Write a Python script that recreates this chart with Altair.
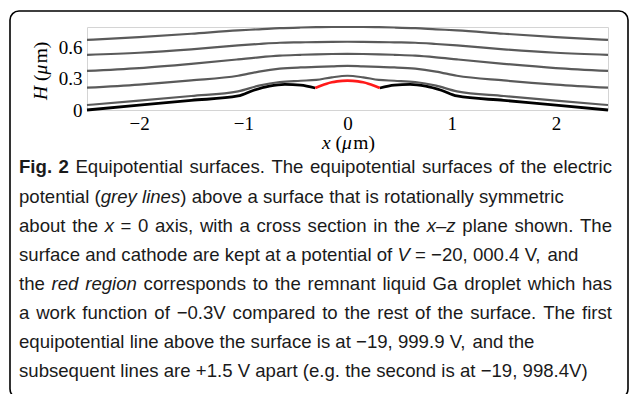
import altair as alt
import pandas as pd

# ---------------- data ----------------
X_GRID = [-2.5, -2.0, -1.5, -1.05, -0.85, -0.65, -0.45, -0.3, -0.15, 0.0,
          0.15, 0.3, 0.45, 0.65, 0.85, 1.05, 1.5, 2.0, 2.5]
GREY_1 = [0.048, 0.09, 0.135, 0.18, 0.235, 0.27, 0.282, 0.29, 0.315, 0.33,
          0.315, 0.29, 0.282, 0.27, 0.235, 0.18, 0.135, 0.09, 0.048]
GREY_2 = [0.215, 0.245, 0.285, 0.33, 0.37, 0.398, 0.41, 0.415, 0.42, 0.425,
          0.42, 0.415, 0.41, 0.398, 0.37, 0.33, 0.285, 0.245, 0.215]
GREY_3 = [0.377, 0.404, 0.445, 0.488, 0.508, 0.524, 0.532, 0.537, 0.54, 0.541,
          0.54, 0.537, 0.532, 0.524, 0.508, 0.488, 0.445, 0.404, 0.377]
GREY_4 = [0.531, 0.552, 0.585, 0.622, 0.636, 0.648, 0.652, 0.655, 0.657, 0.658,
          0.657, 0.655, 0.652, 0.648, 0.636, 0.622, 0.585, 0.552, 0.531]
GREY_5 = [0.676, 0.703, 0.735, 0.768, 0.778, 0.789, 0.795, 0.798, 0.8, 0.8,
          0.8, 0.798, 0.795, 0.789, 0.778, 0.768, 0.735, 0.703, 0.676]

SURF_L_X = [-2.5, -2.0, -1.5, -1.05, -0.9, -0.75, -0.6, -0.45, -0.31]
SURF_L_Y = [0.0, 0.047, 0.093, 0.135, 0.19, 0.23, 0.247, 0.24, 0.212]
SURF_R_X = [0.31, 0.45, 0.6, 0.75, 0.9, 1.05, 1.5, 2.0, 2.5]
SURF_R_Y = [0.212, 0.24, 0.247, 0.23, 0.19, 0.135, 0.093, 0.047, 0.0]

RED_X = [-0.31, -0.25, -0.2, -0.15, -0.1, -0.05, 0.0, 0.05, 0.1, 0.15, 0.2, 0.25, 0.31]
RED_Y = [0.212, 0.237, 0.254, 0.267, 0.276, 0.281, 0.283, 0.281, 0.276, 0.267, 0.254, 0.237, 0.212]

X_TICKS = [-2, -1, 0, 1, 2]
Y_TICKS = [0, 0.3, 0.6]

CAPTION = [
    [("Fig. 2", "b"), (" Equipotential surfaces. The equipotential surfaces of the electric", "r")],
    [("potential (", "r"), ("grey lines", "i"), (") above a surface that is rotationally symmetric", "r")],
    [("about the ", "r"), ("x", "i"), (" = 0 axis, with a cross section in the ", "r"), ("x–z", "i"),
     (" plane shown. The", "r")],
    [("surface and cathode are kept at a potential of ", "r"), ("V", "i"), (" = −20, 000.4 V, and", "r")],
    [("the ", "r"), ("red region", "i"), (" corresponds to the remnant liquid Ga droplet which has", "r")],
    [("a work function of −0.3V compared to the rest of the surface. The first", "r")],
    [("equipotential line above the surface is at −19, 999.9 V, and the", "r")],
    [("subsequent lines are +1.5 V apart (e.g. the second is at −19, 998.4V)", "r")],
]
JUSTIFIED = [True, False, True, False, True, True, False, False]

# ---------------- layout helpers ----------------
PAD_L, PAD_T, PLOT_W, PLOT_H = 87, 27, 521, 83
W_REG = {' ': 278, '(': 333, ')': 333, '+': 584, ',': 278, '-': 333, '.': 278, '=': 584,
         '−': 584, '–': 556}
for ch in "0123456789":
    W_REG[ch] = 556
W_REG.update(dict(zip("ABCDEFGHIJKLMNOPQRSTUVWXYZ",
                      [667, 667, 722, 722, 667, 611, 778, 722, 278, 500, 667, 556, 833, 722, 778,
                       667, 778, 722, 667, 611, 722, 667, 944, 667, 667, 611])))
W_REG.update(dict(zip("abcdefghijklmnopqrstuvwxyz",
                      [556, 556, 500, 556, 556, 278, 556, 556, 222, 222, 500, 222, 833, 556, 556,
                       556, 556, 333, 500, 278, 556, 500, 722, 500, 500, 500])))
W_BOLD = dict(W_REG)
W_BOLD.update({'F': 611, 'i': 278, 'g': 611, '2': 556})

FS = 18.6


def tw(s, style):
    tab = W_BOLD if style == "b" else W_REG
    return sum(tab.get(c, 556) for c in s) * FS / 1000.0


LEFT = 19 - PAD_L
RIGHT = 612 - PAD_L
LINE_Y = [167, 197, 226, 255, 284, 313, 342, 371]

cap_rows = []
for runs, just, ly in zip(CAPTION, JUSTIFIED, LINE_Y):
    natural = sum(tw(t, s) for t, s in runs)
    n_sp = sum(t.count(" ") for t, s in runs)
    extra = (RIGHT - LEFT - natural) / n_sp if (just and n_sp) else 0.0
    cx = LEFT
    for t, s in runs:
        word = ""
        for ch in t:
            if ch == " ":
                if word:
                    cap_rows.append({"text": word, "px": cx, "py": ly - PAD_T, "style": s})
                    cx += tw(word, s)
                    word = ""
                cx += tw(" ", s) + extra
            else:
                word += ch
        if word:
            cap_rows.append({"text": word, "px": cx, "py": ly - PAD_T, "style": s})
            cx += tw(word, s)
cap_df = pd.DataFrame(cap_rows)

# serif title pieces (Times-like metrics)
T_W = {'H': 722, ' ': 250, '(': 333, 'μ': 576, 'm': 778, ')': 333, 'x': 444}
TFS = 19.5


def sw(s):
    return sum(T_W.get(c, 500) for c in s) * TFS / 1000.0


TITLE_PIECES_X = [("x", "i"), (" ", "r"), ("(", "r"), ("μ", "i"), ("m)", "r")]
TITLE_PIECES_Y = [("H", "i"), (" ", "r"), ("(", "r"), ("μ", "i"), ("m)", "r")]

xt_rows = []
cx = 322 - PAD_L
for t, s in TITLE_PIECES_X:
    if t.strip():
        xt_rows.append({"text": t, "px": cx, "py": 143 - PAD_T, "style": s})
    cx += sw(t)
xt_df = pd.DataFrame(xt_rows)

yt_rows = []
cy = 100 - PAD_T
for t, s in TITLE_PIECES_Y:
    if t.strip():
        yt_rows.append({"text": t, "px": 41 - PAD_L, "py": cy, "style": s})
    cy -= sw(t)
yt_df = pd.DataFrame(yt_rows)

# ---------------- tables ----------------
grey_rows = []
for name, ys in [("g1", GREY_1), ("g2", GREY_2), ("g3", GREY_3), ("g4", GREY_4), ("g5", GREY_5)]:
    for xv, yv in zip(X_GRID, ys):
        grey_rows.append({"x": xv, "h": yv, "line": name})
grey_df = pd.DataFrame(grey_rows)

surf_df = pd.DataFrame(
    [{"x": a, "h": b, "side": "L"} for a, b in zip(SURF_L_X, SURF_L_Y)] +
    [{"x": a, "h": b, "side": "R"} for a, b in zip(SURF_R_X, SURF_R_Y)])
red_df = pd.DataFrame({"x": RED_X, "h": RED_Y})

xs = alt.Scale(domain=[-2.5, 2.5], nice=False, zero=False)
ys = alt.Scale(domain=[0, 0.8], nice=False, zero=False)
xax = alt.Axis(values=X_TICKS, title=None, ticks=False, domain=False, grid=False, format="d",
               labelFont="Liberation Serif", labelFontSize=19, labelColor="black",
               labelPadding=4, labelFlush=False)
yax = alt.Axis(values=Y_TICKS, title=None, ticks=False, domain=False, grid=False,
               labelFont="Liberation Serif", labelFontSize=19, labelColor="black",
               labelPadding=5, labelFlush=False,
               labelExpr="datum.value == 0 ? '0' : format(datum.value, '.1f')")

grey = alt.Chart(grey_df).mark_line(color="#5a5a5a", strokeWidth=2.2, interpolate="monotone").encode(
    x=alt.X("x:Q", scale=xs, axis=xax), y=alt.Y("h:Q", scale=ys, axis=yax), detail="line:N")
surf = alt.Chart(surf_df).mark_line(color="black", strokeWidth=2.8, interpolate="monotone").encode(
    x=alt.X("x:Q", scale=xs), y=alt.Y("h:Q", scale=ys), detail="side:N")
red = alt.Chart(red_df).mark_line(color="#ff1a1a", strokeWidth=2.6, interpolate="monotone").encode(
    x=alt.X("x:Q", scale=xs), y=alt.Y("h:Q", scale=ys))
lines = alt.layer(grey, surf, red)


def txt(df, style, **kw):
    return alt.Chart(df).transform_filter(alt.datum.style == style).mark_text(**kw).encode(
        x=alt.X("px:Q", scale=None, axis=None),
        y=alt.Y("py:Q", scale=None, axis=None),
        text="text:N")


cap_common = dict(font="Liberation Sans", fontSize=FS, align="left", baseline="middle", color="#1a1a1a")
cap_r = txt(cap_df, "r", **cap_common)
cap_i = txt(cap_df, "i", fontStyle="italic", **cap_common)
cap_b = txt(cap_df, "b", fontWeight="bold", **cap_common)

t_common = dict(font="Liberation Serif", fontSize=TFS, align="left", baseline="middle", color="black")
xt_r = txt(xt_df, "r", **t_common)
xt_i = txt(xt_df, "i", fontStyle="italic", **t_common)
yt_r = txt(yt_df, "r", angle=270, **t_common)
yt_i = txt(yt_df, "i", angle=270, fontStyle="italic", **t_common)

border = alt.Chart(alt.Data(values=[{"a": 1}])).mark_rect(
    fillOpacity=0, stroke="black", strokeWidth=1.6, cornerRadius=9).encode(
    x=alt.value(10 - PAD_L), x2=alt.value(628 - PAD_L),
    y=alt.value(11 - PAD_T), y2=alt.value(398 - PAD_T))

chart = alt.layer(lines, cap_r, cap_i, cap_b, xt_r, xt_i, yt_r, yt_i, border).resolve_scale(
    x="independent", y="independent").properties(
    width=PLOT_W, height=PLOT_H, autosize="none",
    padding={"left": PAD_L, "top": PAD_T, "right": 629 - PAD_L - PLOT_W, "bottom": 394 - PAD_T - PLOT_H},
    background="white").configure_view(stroke="#d4d4d4", strokeWidth=1)

chart.save("out.html", embed_options={"renderer": "svg", "actions": False})
